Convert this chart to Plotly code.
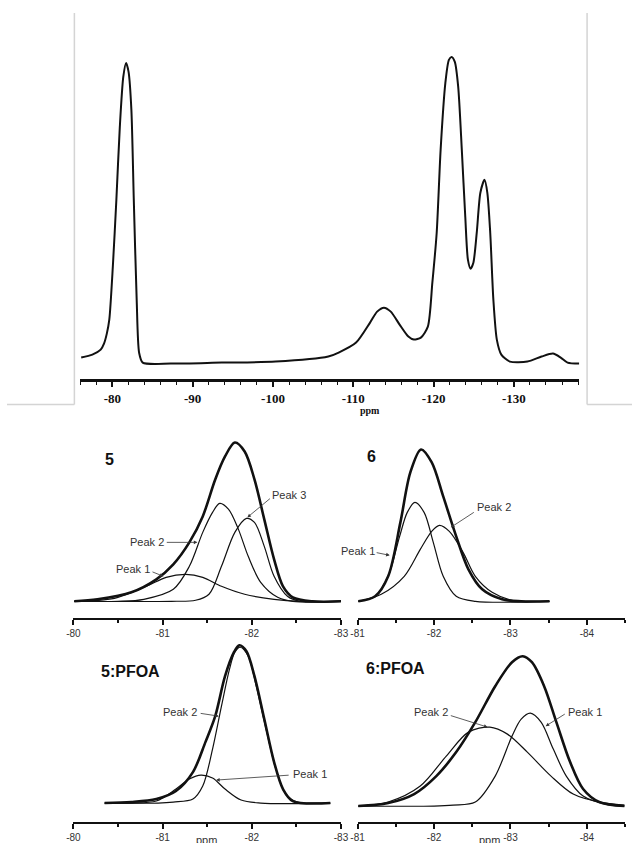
import plotly.graph_objects as go

W, H = 640, 843

# ---------------- DATA ----------------
# Top 19F NMR spectrum (ppm, intensity a.u.)
spec_ppm = [-76.11, -77.50, -78.54, -78.95, -79.30, -79.61, -80.05, -80.49, -80.92, -81.35, -81.70, -82.01,
            -82.36, -82.66, -83.02, -83.32, -83.77, -87.30, -93.63, -100.32, -106.89, -108.18,
            -110.35, -112.09, -112.97, -113.82, -114.67, -115.77, -116.86, -117.54, -118.42, -119.29,
            -119.85, -120.39, -120.88, -121.47, -121.91, -122.25, -122.65, -123.07, -123.52, -123.95,
            -124.28, -124.61, -124.96, -125.38, -125.83, -126.35, -126.70, -127.06, -127.45, -127.88,
            -128.44, -129.51, -131.70, -133.45, -134.87, -135.84, -136.69, -138.15]
spec_int = [6, 9, 14, 20, 30, 44, 97, 164, 237, 287, 301, 292,
            254, 164, 64, 11, 1, 0, 1, 2, 7, 11,
            21, 41, 52, 56, 52, 39, 27, 24, 26, 37,
            81, 131, 214, 281, 304, 307, 302, 277, 214, 147,
            104, 95, 101, 131, 171, 184, 171, 131, 64, 24,
            9, 2, 2, 7, 10, 6, 1, 0]
spec_ticks = [-80, -90, -100, -110, -120, -130]
spec_ticklabels = ["-80", "-90", "-100", "-110", "-120", "-130"]

# Panel "5"
p5_env_ppm = [-80.01, -80.27, -80.65, -80.93, -81.12, -81.30, -81.45, -81.59, -81.70, -81.81,
              -81.92, -82.03, -82.14, -82.25, -82.35, -82.46, -82.68, -83.01]
p5_env = [0, 2, 9, 22, 37, 59, 85, 122, 145, 159, 150, 122, 82, 42, 15, 4, 0, 0]
p5_pk1_ppm = [-80.01, -80.46, -80.82, -81.04, -81.26, -81.45, -81.66, -81.92, -82.25, -82.54, -83.01]
p5_pk1 = [0, 3, 15, 24, 27, 24, 15, 7, 2, 0, 0]
p5_pk2_ppm = [-80.01, -80.50, -80.79, -81.12, -81.30, -81.45, -81.56, -81.64, -81.74, -81.85, -81.96, -82.10,
              -82.29, -82.46, -83.01]
p5_pk2 = [0, 0, 2, 12, 35, 69, 89, 98, 92, 72, 45, 19, 4, 0, 0]
p5_pk3_ppm = [-80.01, -81.10, -81.37, -81.52, -81.66, -81.81, -81.94, -82.03, -82.14, -82.25, -82.40,
              -82.54, -83.01]
p5_pk3 = [0, 0, 1, 7, 35, 69, 83, 79, 55, 25, 5, 0, 0]

# Panel "6"
p6_env_ppm = [-81.01, -81.23, -81.40, -81.56, -81.69, -81.83, -81.97, -82.12, -82.29, -82.45,
              -82.63, -82.89, -83.14, -83.51]
p6_env = [0, 5, 25, 79, 129, 152, 139, 105, 65, 32, 12, 2, 0, 0]
p6_pk1_ppm = [-81.01, -81.23, -81.40, -81.55, -81.65, -81.75, -81.87, -81.99, -82.12, -82.29, -82.54, -83.51]
p6_pk1 = [0, 5, 25, 65, 89, 99, 89, 59, 25, 5, 0, 0]
p6_pk2_ppm = [-81.01, -81.31, -81.61, -81.82, -81.97, -82.07, -82.20, -82.38, -82.54, -82.76, -83.02, -83.31,
              -83.51]
p6_pk2 = [0, 7, 25, 52, 70, 76, 70, 49, 25, 9, 1, 0, 0]

# Panel "5:PFOA"
p5f_env_ppm = [-80.35, -80.65, -80.93, -81.15, -81.34, -81.48, -81.59, -81.70, -81.80, -81.86,
               -81.94, -82.03, -82.14, -82.25, -82.35, -82.46, -82.88]
p5f_env = [0, 1, 4, 12, 31, 61, 87, 127, 151, 158, 152, 127, 84, 41, 14, 2, 0]
p5f_pk1_ppm = [-80.35, -80.65, -80.93, -81.15, -81.30, -81.43, -81.56, -81.70, -81.88, -82.10, -82.88]
p5f_pk1 = [0, 0, 2, 14, 24, 28, 25, 14, 3, 0, 0]
p5f_pk2_ppm = [-80.35, -80.95, -81.12, -81.34, -81.45, -81.56, -81.66, -81.75, -81.81, -81.87, -81.96, -82.05,
               -82.16, -82.27, -82.38, -82.51, -82.68, -82.88]
p5f_pk2 = [0, 0, 1, 4, 17, 54, 97, 134, 151, 156, 147, 117, 74, 34, 9, 1, 0, 0]

# Panel "6:PFOA"
p6f_env_ppm = [-81.01, -81.40, -81.74, -82.03, -82.29, -82.54, -82.80, -83.02, -83.16, -83.28,
               -83.44, -83.60, -83.78, -83.95, -84.16, -84.49]
p6f_env = [0, 3, 12, 30, 54, 84, 120, 144, 150, 144, 120, 84, 44, 17, 4, 0]
p6f_pk1_ppm = [-81.01, -82.00, -82.25, -82.54, -82.80, -83.02, -83.14, -83.26, -83.40, -83.56, -83.73, -83.95,
               -84.24, -84.49]
p6f_pk1 = [0, 0, 1, 4, 30, 70, 87, 93, 84, 57, 30, 10, 2, 0]
p6f_pk2_ppm = [-81.01, -81.40, -81.82, -82.16, -82.45, -82.73, -82.96, -83.22, -83.53, -83.82, -84.16, -84.49]
p6f_pk2 = [0, 4, 20, 50, 74, 79, 72, 54, 30, 12, 4, 1]

left_ticks = [-80, -81, -82, -83]
left_ticklabels = ["-80", "-81", "-82", "-83"]
right_ticks = [-81, -82, -83, -84]
right_ticklabels = ["-81", "-82", "-83", "-84"]

# ---------------- FIGURE ----------------
def fx(p):
    return p / W

def fy(p):
    return 1 - p / H

fig = go.Figure()

thick = dict(color="#111111", width=2.6, shape="spline", smoothing=0.9)
thin = dict(color="#111111", width=1.2, shape="spline", smoothing=0.9)

fig.add_trace(go.Scatter(x=spec_ppm, y=spec_int, mode="lines", xaxis="x", yaxis="y",
                         line=dict(color="#111111", width=2, shape="spline", smoothing=0.7)))

panels = [
    ("x2", "y2", p5_env_ppm, p5_env, [(p5_pk1_ppm, p5_pk1), (p5_pk2_ppm, p5_pk2), (p5_pk3_ppm, p5_pk3)]),
    ("x3", "y3", p6_env_ppm, p6_env, [(p6_pk1_ppm, p6_pk1), (p6_pk2_ppm, p6_pk2)]),
    ("x4", "y4", p5f_env_ppm, p5f_env, [(p5f_pk1_ppm, p5f_pk1), (p5f_pk2_ppm, p5f_pk2)]),
    ("x5", "y5", p6f_env_ppm, p6f_env, [(p6f_pk1_ppm, p6f_pk1), (p6f_pk2_ppm, p6f_pk2)]),
]
for xa, ya, ex, ey, comps in panels:
    for cx, cy in comps:
        fig.add_trace(go.Scatter(x=cx, y=cy, mode="lines", xaxis=xa, yaxis=ya, line=thin))
    fig.add_trace(go.Scatter(x=ex, y=ey, mode="lines", xaxis=xa, yaxis=ya, line=thick))

sans_tick = dict(family="Liberation Sans, Arial", size=10, color="#333333")

def bottom_xaxis(domain_px, rng, tickvals, ticktext, yanchor):
    return dict(domain=[fx(domain_px[0]), fx(domain_px[1])], range=rng, anchor=yanchor,
                showline=True, linewidth=2, linecolor="#111111", mirror=False,
                ticks="outside", ticklen=5, tickwidth=1.5, tickcolor="#111111",
                tickmode="array", tickvals=tickvals, ticktext=ticktext, tickfont=sans_tick,
                minor=dict(ticks="outside", ticklen=3, tickwidth=1.5, tickcolor="#111111",
                           tick0=-80, dtick=0.5, showgrid=False),
                showgrid=False, zeroline=False, fixedrange=True)

def hidden_yaxis(domain_px, rng, xanchor):
    return dict(domain=[fy(domain_px[0]), fy(domain_px[1])], range=rng, anchor=xanchor,
                visible=False, showgrid=False, zeroline=False, fixedrange=True)

fig.update_layout(
    width=W, height=H, margin=dict(l=0, r=0, t=0, b=0),
    paper_bgcolor="white", plot_bgcolor="white", showlegend=False,
    xaxis=dict(domain=[fx(75), fx(586)], range=[-75.99, -138.15], anchor="y",
               showline=True, linewidth=2.6, linecolor="#111111",
               ticks="outside", ticklen=6, tickwidth=1.6, tickcolor="#111111",
               tickmode="array", tickvals=spec_ticks, ticktext=spec_ticklabels,
               tickfont=dict(family="Liberation Serif", size=13, color="#111111", weight="bold"),
               minor=dict(ticks="outside", ticklen=4, tickwidth=1.4, tickcolor="#111111",
                          tick0=-80, dtick=2, showgrid=False),
               showgrid=False, zeroline=False, fixedrange=True),
    yaxis=hidden_yaxis((379, 14), [-15, 350], "x"),
    xaxis2=bottom_xaxis((68, 342), [-80, -83], left_ticks, left_ticklabels, "y2"),
    yaxis2=hidden_yaxis((619, 430), [-17, 172], "x2"),
    xaxis3=bottom_xaxis((359, 633), [-81, -84.5], right_ticks, right_ticklabels, "y3"),
    yaxis3=hidden_yaxis((619, 430), [-17, 172], "x3"),
    xaxis4=bottom_xaxis((68, 342), [-80, -83], left_ticks, left_ticklabels, "y4"),
    yaxis4=hidden_yaxis((823, 635), [-19, 169], "x4"),
    xaxis5=bottom_xaxis((359, 633), [-81, -84.5], right_ticks, right_ticklabels, "y5"),
    yaxis5=hidden_yaxis((823, 635), [-16, 172], "x5"),
)

ann = []
lab_font = dict(family="Liberation Sans, Arial", size=11, color="#333333")
title_font = dict(family="Liberation Sans, Arial", size=16, color="#111111", weight="bold")

def text(xr, yr, x, y, t, font, xanchor="center"):
    ann.append(dict(xref=xr, yref=yr, x=x, y=y, text=t, showarrow=False, font=font,
                    xanchor=xanchor, yanchor="middle"))

def leader(xr, yr, tail, head):
    ann.append(dict(xref=xr, yref=yr, axref=xr, ayref=yr, x=head[0], y=head[1],
                    ax=tail[0], ay=tail[1], text="", showarrow=True, arrowhead=2,
                    arrowsize=0.9, arrowwidth=0.8, arrowcolor="#333333", standoff=0, startstandoff=0))

# Panel titles
text("x2", "y2", -80.41, 142, "5", title_font)
text("x3", "y3", -81.18, 145, "6", title_font)
text("x4", "y4", -80.64, 132, "5:PFOA", title_font)
text("x5", "y5", -81.50, 138, "6:PFOA", title_font)

# Peak labels
text("x2", "y2", -82.42, 106, "Peak 3", lab_font)
leader("x2", "y2", (-82.22, 104), (-81.95, 84))
text("x2", "y2", -80.82, 59, "Peak 2", lab_font)
leader("x2", "y2", (-81.03, 59), (-81.39, 59))
text("x2", "y2", -80.67, 32, "Peak 1", lab_font)
leader("x2", "y2", (-80.87, 30), (-81.01, 25))

text("x3", "y3", -82.79, 94, "Peak 2", lab_font)
leader("x3", "y3", (-82.54, 90), (-82.22, 74))
text("x3", "y3", -81.01, 50, "Peak 1", lab_font)
leader("x3", "y3", (-81.23, 49), (-81.42, 46))

text("x4", "y4", -81.20, 91, "Peak 2", lab_font)
leader("x4", "y4", (-81.41, 90), (-81.63, 87))
text("x4", "y4", -82.65, 29, "Peak 1", lab_font)
leader("x4", "y4", (-82.43, 28), (-81.60, 23))

text("x5", "y5", -81.96, 94, "Peak 2", lab_font)
leader("x5", "y5", (-82.20, 91), (-82.70, 79))
text("x5", "y5", -83.97, 94, "Peak 1", lab_font)
leader("x5", "y5", (-83.73, 93), (-83.46, 80))

# axis "ppm" labels
text("paper", "paper", fx(372), fy(411), "ppm",
     dict(family="Liberation Serif", size=10, color="#111111", weight="bold"))
text("paper", "paper", fx(204), fy(841), "ppm", lab_font)
text("paper", "paper", fx(494), fy(841), "ppm", lab_font)

fig.update_layout(annotations=ann)

# light grey page frame around the top spectrum
grey = dict(color="#d4d4d4", width=1.5)
shapes = [
    dict(type="line", xref="paper", yref="paper", x0=fx(69), x1=fx(69), y0=fy(13), y1=fy(405), line=grey),
    dict(type="line", xref="paper", yref="paper", x0=fx(594), x1=fx(594), y0=fy(13), y1=fy(405), line=grey),
    dict(type="line", xref="paper", yref="paper", x0=0, x1=fx(69), y0=fy(405), y1=fy(405), line=grey),
    dict(type="line", xref="paper", yref="paper", x0=fx(594), x1=1, y0=fy(405), y1=fy(405), line=grey),
]
fig.update_layout(shapes=shapes)

fig.write_html("out.html", config={"displayModeBar": False},
               post_script="document.body.style.margin='0';document.body.style.overflow='hidden';")
